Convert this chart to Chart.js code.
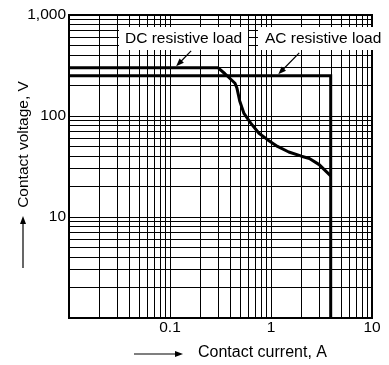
<!DOCTYPE html>
<html>
<head>
<meta charset="utf-8">
<script src="https://cdn.jsdelivr.net/npm/chart.js@4.4.1/dist/chart.umd.min.js"></script>
<style>
  body { margin: 0; background: #fff; }
  canvas { display: block; }
</style>
</head>
<body>
<canvas id="chart" width="389" height="365"></canvas>
<script>
// DC resistive load limit (current in A, voltage in V)
const dcCurrent = [0.01, 0.3, 0.35, 0.44, 0.46, 0.49, 0.54, 0.63, 0.76, 0.93, 1.16, 1.5, 2.0, 2.4, 3.0, 3.9];
const dcVoltage = [300, 300, 262, 211, 189, 141, 106, 85, 67.5, 58, 50, 44, 40, 38, 33, 25.5];
// AC resistive load limit
const acCurrent = [0.01, 3.9, 3.9];
const acVoltage = [250, 250, 1];

// axis decades and labelled ticks
const xDecades = [0.01, 0.1, 1];
const yDecades = [1, 10, 100];
const xLabelValues = [0.1, 1, 10];
const xLabelText = ['0.1', '1', '10'];
const yLabelValues = [10, 100, 1000];
const yLabelText = ['10', '100', '1,000'];

const FONT = '"Liberation Sans", Arial, Helvetica, sans-serif';

// 1..9 in every decade -> log grid lines
function gridValues(decades) {
  var vals = [];
  decades.forEach(function (d) {
    for (var m = 1; m <= 9; m++) vals.push(Number((m * d).toPrecision(3)));
  });
  vals.push(Number((decades[decades.length - 1] * 10).toPrecision(3)));
  return vals;
}
const xGrid = gridValues(xDecades);
const yGrid = gridValues(yDecades);

function points(xs, ys) {
  return xs.map(function (x, i) { return { x: x, y: ys[i] }; });
}

function drawArrow(ctx, x1, y1, x2, y2) {
  var ang = Math.atan2(y2 - y1, x2 - x1);
  var len = 8, half = 3;
  ctx.beginPath();
  ctx.moveTo(x1, y1);
  ctx.lineTo(x2 - Math.cos(ang) * len * 0.8, y2 - Math.sin(ang) * len * 0.8);
  ctx.stroke();
  ctx.beginPath();
  ctx.moveTo(x2, y2);
  ctx.lineTo(x2 - Math.cos(ang) * len - Math.sin(ang) * half, y2 - Math.sin(ang) * len + Math.cos(ang) * half);
  ctx.lineTo(x2 - Math.cos(ang) * len + Math.sin(ang) * half, y2 - Math.sin(ang) * len - Math.cos(ang) * half);
  ctx.closePath();
  ctx.fill();
}

const decorations = {
  id: 'decorations',
  afterDatasetsDraw: function (chart) {
    var ctx = chart.ctx, a = chart.chartArea;
    var xs = chart.scales.x, ys = chart.scales.y;
    ctx.save();

    // plot frame
    ctx.strokeStyle = '#000';
    ctx.lineWidth = 2;
    ctx.strokeRect(a.left, a.top, a.right - a.left, a.bottom - a.top);

    // white boxes behind the curve labels
    ctx.fillStyle = '#fff';
    ctx.fillRect(119, 27, 129, 23);
    ctx.fillRect(258, 27, 131, 23);

    ctx.fillStyle = '#000';
    ctx.font = '15.5px ' + FONT;
    ctx.textBaseline = 'middle';
    ctx.textAlign = 'left';
    ctx.fillText('DC resistive load', 125, 38.5);
    ctx.fillText('AC resistive load', 265, 38.5);

    // pointer arrows onto the curves
    ctx.lineWidth = 1.2;
    var tx = xs.getPixelForValue(0.115), ty = ys.getPixelForValue(300) - 1.5;
    drawArrow(ctx, tx + 15, ty - 15.5, tx, ty);
    tx = xs.getPixelForValue(1.18); ty = ys.getPixelForValue(250) - 1.5;
    drawArrow(ctx, tx + 21, ty - 21.5, tx, ty);

    // axis titles with arrows
    ctx.font = '16px ' + FONT;
    ctx.fillText('Contact current, A', 198, 353);
    drawArrow(ctx, 134, 354, 183, 354);
    drawArrow(ctx, 23, 268, 23, 216);

    ctx.translate(24, 144.5);
    ctx.rotate(-Math.PI / 2);
    ctx.textAlign = 'center';
    ctx.font = '15.5px ' + FONT;
    ctx.fillText('Contact voltage, V', 0, 0);
    ctx.restore();
  }
};

const tickFont = { family: FONT, size: 15.5 };

new Chart(document.getElementById('chart').getContext('2d'), {
  type: 'line',
  data: {
    datasets: [
      {
        label: 'AC resistive load',
        data: points(acCurrent, acVoltage),
        borderColor: '#000',
        borderWidth: 3,
        pointRadius: 0,
        fill: false,
        tension: 0,
        borderJoinStyle: 'miter',
      },
      {
        label: 'DC resistive load',
        data: points(dcCurrent, dcVoltage),
        borderColor: '#000',
        borderWidth: 3,
        pointRadius: 0,
        fill: false,
        tension: 0,
        borderJoinStyle: 'round',
      },
    ],
  },
  options: {
    responsive: false,
    animation: false,
    layout: { padding: { left: 0, top: 15, right: 17, bottom: 0 } },
    plugins: { legend: { display: false }, tooltip: { enabled: false } },
    scales: {
      x: {
        type: 'logarithmic',
        min: 0.01,
        max: 10,
        afterBuildTicks: function (scale) {
          scale.ticks = xGrid.map(function (v) { return { value: v }; });
        },
        afterFit: function (scale) { scale.height = 47; },
        grid: { color: '#000', lineWidth: 1, drawTicks: false },
        border: { display: false },
        ticks: {
          autoSkip: false,
          maxRotation: 0,
          padding: 0,
          color: '#000',
          font: tickFont,
          callback: function (value) {
            var i = xLabelValues.indexOf(Number(Number(value).toPrecision(3)));
            return i < 0 ? '' : xLabelText[i];
          },
        },
      },
      y: {
        type: 'logarithmic',
        min: 1,
        max: 1000,
        afterBuildTicks: function (scale) {
          scale.ticks = yGrid.map(function (v) { return { value: v }; });
        },
        afterFit: function (scale) { scale.width = 69; },
        grid: { color: '#000', lineWidth: 1, drawTicks: false },
        border: { display: false },
        ticks: {
          autoSkip: false,
          padding: 3,
          color: '#000',
          font: tickFont,
          callback: function (value) {
            var i = yLabelValues.indexOf(Number(Number(value).toPrecision(3)));
            return i < 0 ? '' : yLabelText[i];
          },
        },
      },
    },
  },
  plugins: [decorations],
});
</script>
</body>
</html>
